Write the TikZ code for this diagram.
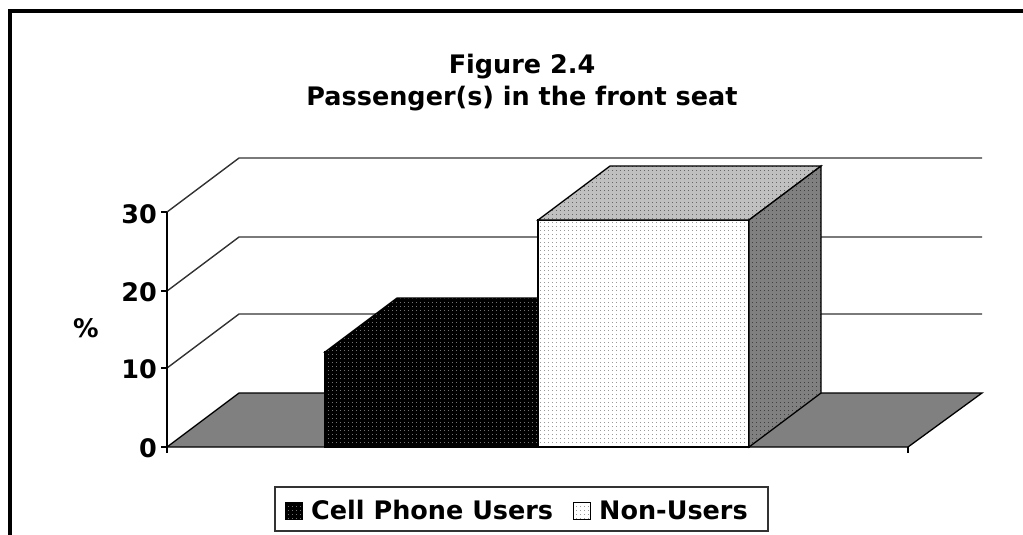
\documentclass[tikz,border=0pt]{standalone}
\usepackage{fontspec}
\setmainfont{DejaVu Sans}
\usetikzlibrary{patterns.meta}
\tikzdeclarepattern{
  name=finedots,
  type=uncolored,
  bounding box={(0pt,0pt) and (4pt,4pt)},
  tile size={(4pt,4pt)},
  code={\fill (0pt,0pt) rectangle (1pt,1pt);}
}
\definecolor{floorgray}{HTML}{808080}
\definecolor{topgray}{HTML}{C0C0C0}
\definecolor{sidegray}{HTML}{808080}
\begin{document}
\begin{tikzpicture}[x=1pt,y=-1pt,
  txt/.style={font=\fontsize{25.5}{30}\selectfont\bfseries, inner sep=0pt},
  gridline/.style={line width=1.4pt, draw=black!80},
  edge/.style={line width=1.3pt, draw=black, line join=miter},
  darkface/.style={edge, preaction={fill=black}, pattern={finedots}, pattern color=black!55},
  lightface/.style={edge, preaction={fill=white}, pattern={finedots}, pattern color=black!40},
  topface/.style={edge, preaction={fill=topgray}, pattern={finedots}, pattern color=black!60},
  sideface/.style={edge, preaction={fill=sidegray}, pattern={finedots}, pattern color=black!75},
]
\useasboundingbox (0,0) rectangle (1023,535);
% outer frame (top and left edges)
\draw[line width=4pt] (9.5,535) -- (9.5,11.5) -- (1023,11.5);

% title
\node[txt, anchor=base] (t1) at (522,74) {Figure 2.4};
\node[txt, anchor=base] (t2) at (522,105) {Passenger(s) in the front seat};

% back wall gridlines
\foreach \yy in {368,291,212} {
  \draw[gridline] (167,\yy) -- (239,\yy-54) -- (982,\yy-54);
}

% floor
\filldraw[edge, fill=floorgray] (167,447) -- (239,393) -- (982,393) -- (908,447) -- cycle;

% value axis
\draw[edge] (167,212) -- (167,447);
\foreach \yy in {447,368,291,212} {
  \draw[edge] (161,\yy) -- (167,\yy);
}
\draw[edge] (167,447) -- (167,453);
\draw[edge] (908,447) -- (908,453);

% axis labels
\node[txt, anchor=base east] (l30) at (157,223) {30};
\node[txt, anchor=base east] (l20) at (157,301) {20};
\node[txt, anchor=base east] (l10) at (157,378) {10};
\node[txt, anchor=base east] (l0)  at (157,457) {0};
\node[txt] (pct) at (86,328) {\%};

% Cell Phone Users bar
\draw[darkface] (325,352) -- (397,298) -- (610,298) -- (538,352) -- cycle;
\draw[darkface] (325,352) rectangle (538,447);

% Non-Users bar
\draw[lightface] (538,220) rectangle (749,447);
\draw[topface] (538,220) -- (610,166) -- (821,166) -- (749,220) -- cycle;
\draw[sideface] (749,220) -- (821,166) -- (821,393) -- (749,447) -- cycle;

% legend
\node[draw=black!80, line width=1.3pt, minimum width=493pt, minimum height=44pt, inner sep=0pt] (leg) at (521.5,509) {};
\draw[darkface, line width=0.8pt] (285,502) rectangle (302,519);
\node[txt, anchor=base west] (lg1) at (311,519) {Cell Phone Users};
\draw[lightface, line width=0.8pt] (573,502) rectangle (590,519);
\node[txt, anchor=base west] (lg2) at (599,519) {Non-Users};
\end{tikzpicture}
\end{document}
